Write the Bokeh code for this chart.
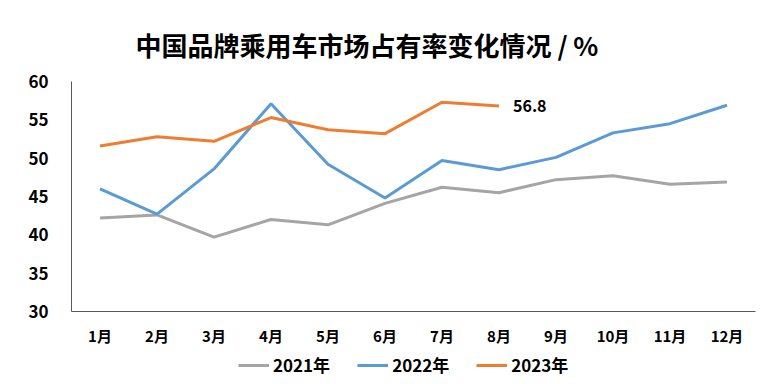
from bokeh.plotting import figure
from bokeh.layouts import column
from bokeh.models import Range1d, Legend, LegendItem, Title
from bokeh.core.properties import value
from bokeh.embed import file_html
from bokeh.resources import INLINE

months = ["1月", "2月", "3月", "4月", "5月", "6月", "7月", "8月", "9月", "10月", "11月", "12月"]
share_2021 = [42.2, 42.6, 39.7, 42.0, 41.3, 44.1, 46.2, 45.5, 47.2, 47.7, 46.6, 46.9]
share_2022 = [46.0, 42.7, 48.6, 57.1, 49.2, 44.8, 49.7, 48.5, 50.1, 53.3, 54.5, 56.9]
share_2023 = [51.6, 52.8, 52.2, 55.3, 53.7, 53.2, 57.3, 56.8]
series_names = ["2021年", "2022年", "2023年"]
title_text = "中国品牌乘用车市场占有率变化情况 / %"
last_label = "56.8"

FONT = "Noto Sans CJK SC"
colors = ["#A5A5A5", "#5B9BD5", "#ED7D31"]
series = [(months, share_2021), (months, share_2022), (months[:len(share_2023)], share_2023)]

p = figure(x_range=months, y_range=Range1d(30, 60), width=776, height=350,
           output_backend="svg", toolbar_location=None, title=None,
           min_border_left=71, min_border_right=21, min_border_top=81, min_border_bottom=39)
p.outline_line_color = None
p.grid.visible = False
p.background_fill_color = "white"

for ax in (p.xaxis[0], p.yaxis[0]):
    ax.axis_line_color = "#595959"
    ax.axis_line_width = 1
    ax.major_tick_line_color = None
    ax.minor_tick_line_color = None
    ax.major_label_text_font = FONT
    ax.major_label_text_font_style = "bold"
    ax.major_label_text_color = "black"
p.yaxis.major_label_text_font_size = "17px"
p.xaxis.major_label_text_font_size = "15px"
p.yaxis.major_label_standoff = 17
p.xaxis.major_label_standoff = 7
p.yaxis.ticker = [30, 35, 40, 45, 50, 55, 60]

for (xs, ys), c in zip(series, colors):
    p.line(xs, ys, line_color=c, line_width=3)

p.text(x=[months[len(share_2023) - 1]], y=[share_2023[-1]], text=[last_label],
       x_offset=14, text_baseline="middle", text_align="left",
       text_font=value(FONT), text_font_style="bold", text_font_size="16px",
       text_color="black")

p.add_layout(Title(text=title_text, align="left", offset=64, standoff=38,
                   vertical_align="bottom", text_font=FONT, text_font_style="bold",
                   text_font_size="26px", text_color="black"), "above")

# legend strip (series drawn outside its visible range; only the legend shows)
lg = figure(width=776, height=34, output_backend="svg", toolbar_location=None,
            x_range=months, y_range=Range1d(0, 1), x_axis_type=None, y_axis_type=None,
            min_border=0, title=None)
lg.outline_line_color = None
lg.grid.visible = False
renderers = [lg.line(xs, ys, line_color=c, line_width=3) for (xs, ys), c in zip(series, colors)]
legend = Legend(items=[LegendItem(label=n, renderers=[r]) for n, r in zip(series_names, renderers)],
                orientation="horizontal", location=(167, 7),
                border_line_color=None, background_fill_alpha=0,
                padding=0, margin=0, spacing=27, label_standoff=4,
                glyph_width=31, glyph_height=18, label_height=18,
                label_text_font=FONT, label_text_font_style="bold",
                label_text_font_size="17px", label_text_color="black")
lg.add_layout(legend, "center")

layout = column(p, lg, spacing=0)
open("out.html", "w").write(file_html(layout, INLINE))
